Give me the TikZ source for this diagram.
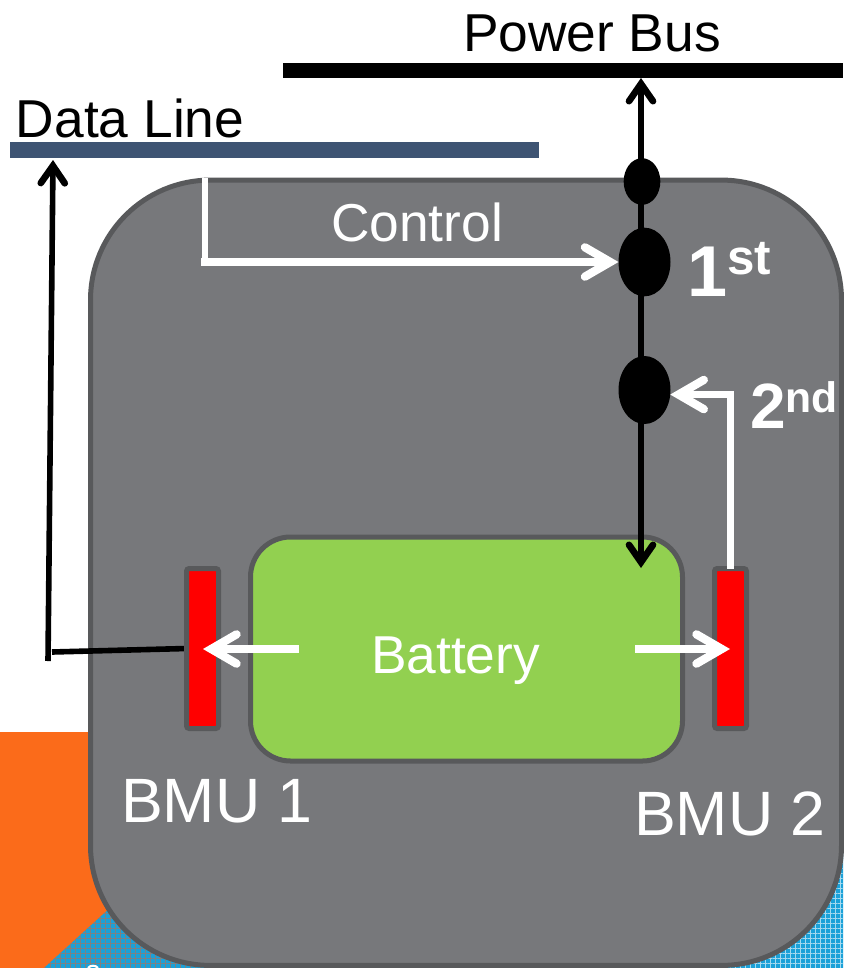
\documentclass[tikz,border=0pt]{standalone}
\usepackage{fontspec}
\setmainfont{Liberation Sans}
\usepackage{xcolor}
\usepackage{tikz}
\usetikzlibrary{shapes.geometric, arrows.meta, patterns.meta}
\definecolor{panelfill}{HTML}{77787B}
\definecolor{paneledge}{HTML}{58595B}
\definecolor{batteryfill}{HTML}{92D050}
\definecolor{databar}{HTML}{3E5473}
\definecolor{orangebg}{HTML}{FB6B1A}
\definecolor{bluebg}{HTML}{1BA1D8}
\begin{document}
\begin{tikzpicture}[
  x=0.75pt, y=-0.75pt,
  label/.style={anchor=base west, inner sep=0pt, outer sep=0pt, font=\fontsize{40}{42}\selectfont},
  onpanel/.style={label, text=white},
  bmutext/.style={onpanel, font=\fontsize{47}{50}\selectfont},
  bus/.style={inner sep=0pt, outer sep=0pt},
  panel/.style={draw=paneledge, fill=panelfill, line width=3.75pt, rounded corners=90pt, minimum width=563.25pt, minimum height=589pt, inner sep=0pt},
  battery/.style={draw=paneledge, fill=batteryfill, line width=3.75pt, rounded corners=30pt, minimum width=324pt, minimum height=168pt, inner sep=0pt, outer sep=0pt},
  bmu/.style={draw=paneledge, fill=red, line width=3.75pt, rounded corners=2pt, minimum width=24pt, minimum height=120pt, inner sep=0pt, outer sep=0pt},
  switch/.style={ellipse, fill=black, inner sep=0pt, outer sep=0pt},
  blackline/.style={draw=black, line width=4.2pt, >={Straight Barb[length=13pt, width=18pt, line width=5pt, line cap=round, line join=miter]}},
  whiteline/.style={draw=white, line width=5.5pt, >={Straight Barb[length=19pt, width=22pt, line width=6.2pt, line cap=round, line join=miter]}},
  gridh/.style={pattern={Lines[angle=0, distance=3.75pt, line width=0.7pt]}},
  gridv/.style={pattern={Lines[angle=90, distance=3.75pt, line width=0.7pt]}}
]
\useasboundingbox (0,0) rectangle (843,968);
% backdrop
\fill[orangebg] (0,732) rectangle (300,968);
\fill[bluebg] (44,968) -- (300,735) -- (843,735) -- (843,968) -- cycle;
\fill[gridh, pattern color=black!50] (44,968) -- (300,735) -- (300,968) -- cycle;
\fill[gridv, pattern color=black!50] (44,968) -- (300,735) -- (300,968) -- cycle;
\fill[gridh, pattern color=white!60!bluebg] (600,735) rectangle (843,968);
\fill[gridv, pattern color=white!60!bluebg] (600,735) rectangle (843,968);
\draw[white, line width=1.6pt] (88,968) .. controls (90,965) and (96,965) .. (98,968);
% buses and boxes
\node[bus, fill=black, minimum width=420pt, minimum height=11.25pt] (powerbus) at (563,70.5) {};
\node[bus, fill=databar, minimum width=396.75pt, minimum height=12pt] (databus) at (274.5,150) {};
\node[panel] (box) at (466,572.75) {};
\node[battery] (cell) at (466.5,649) {};
\node[bmu] (bmuone) at (202.5,648.5) {};
\node[bmu] (bmutwo) at (730.5,648.5) {};
% free ends
\coordinate (powertip) at (641,78);
\coordinate (celltip) at (641,568);
\coordinate (datatip) at (53,160);
\coordinate (datafoot) at (48,661);
\coordinate (dataelbow) at (52,652);
\coordinate (ctrltop) at (205,178);
\coordinate (ctrlelbow) at (205,262);
\coordinate (cellleft) at (299,649);
\coordinate (cellright) at (635,649);
\coordinate (bmuonetip) at (203,649);
\coordinate (bmutwotip) at (730,649);
% power path
\draw[blackline, <->] (powertip) -- (celltip);
\node[switch, minimum width=27.5pt, minimum height=35pt] (fuse) at (642,181.5) {};
\node[switch, minimum width=39pt, minimum height=51.5pt] (first) at (644.5,262) {};
\node[switch, minimum width=39pt, minimum height=51pt] (second) at (644.5,390) {};
% data path
\draw[blackline, ->] (datafoot) -- (datatip);
\draw[blackline, shorten >=2pt] (dataelbow) -- (bmuone.west);
% control paths
\draw[whiteline, line width=4.8pt] (ctrltop) -- (ctrlelbow);
\draw[whiteline, ->] (ctrlelbow -| 201,0) -- (first.west);
\draw[whiteline, line width=4.6pt, ->] (bmutwo.north) |- (second.-10);
\draw[whiteline, ->] (cellleft) -- (bmuonetip);
\draw[whiteline, ->] (cellright) -- (bmutwotip);
% labels
\node[label] (powerlabel) at (463,51) {Power Bus};
\node[label] (datalabel) at (16,137) {Data Line};
\node[onpanel] (ctrllabel) at (331,241) {Control};
\node[onpanel] (celllabel) at (371,673) {Battery};
\node[bmutext] (bmuonelabel) at (121,822) {BMU 1};
\node[bmutext] (bmutwolabel) at (634,835) {BMU 2};
\node[onpanel, font=\bfseries\fontsize{54}{56}\selectfont] (firstlabel) at (687,296) {1\raisebox{16pt}{\fontsize{37}{39}\selectfont st}};
\node[onpanel, font=\bfseries\fontsize{48}{50}\selectfont] (secondlabel) at (750,428) {2\raisebox{12pt}{\fontsize{32}{34}\selectfont nd}};
\end{tikzpicture}
\end{document}
